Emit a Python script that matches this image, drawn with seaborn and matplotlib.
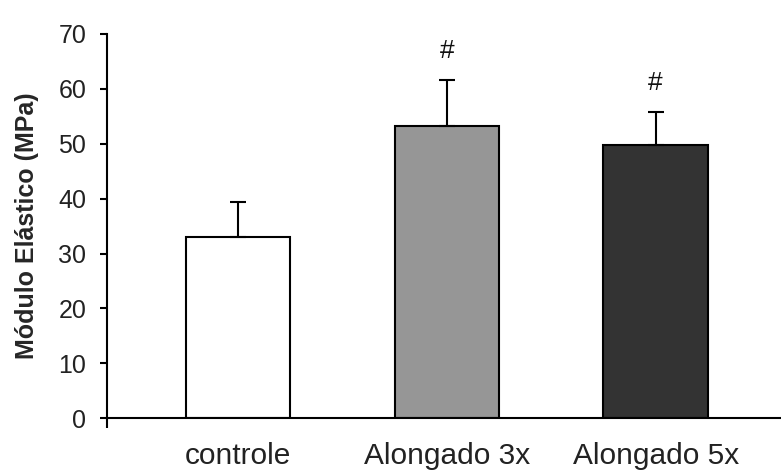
import numpy as np
import matplotlib
matplotlib.use('Agg')
import matplotlib.pyplot as plt
import seaborn as sns

# data
groups = ['controle', 'Alongado 3x', 'Alongado 5x']
means = [33.0, 53.3, 49.8]
sd_upper = [6.3, 8.3, 5.9]
signif = ['', '#', '#']
bar_colors = ['#ffffff', '#969696', '#333333']

sns.set_theme(style='white')
plt.rcParams['font.family'] = ['Liberation Sans', 'DejaVu Sans']

fig = plt.figure(figsize=(7.81, 4.72), dpi=100)
ax = fig.add_axes([0.137, 0.114, 0.863, 0.814])

sns.barplot(x=groups, y=means, hue=groups, palette=bar_colors, legend=False,
            width=0.5, edgecolor='black', linewidth=1.5, ax=ax)

# upper-only error bars
xpos = np.arange(len(groups))
ax.errorbar(xpos, means, yerr=[np.zeros(len(means)), sd_upper], fmt='none',
            ecolor='black', elinewidth=1.5, capsize=6, capthick=1.5, zorder=3)

# significance marks above the bars
for x, m, s, mark in zip(xpos, means, sd_upper, signif):
    if mark:
        ax.text(x, m + s + 3.2, mark, ha='center', va='bottom', fontsize=19, color='#111111')

ax.set_ylim(0, 70)
ax.set_xlim(-0.627, 2.6)
ax.set_yticks(range(0, 71, 10))
ax.set_ylabel('Módulo Elástico (MPa)', fontsize=18, fontweight='bold', labelpad=14)

for side in ['top', 'right']:
    ax.spines[side].set_visible(False)
for side in ['left', 'bottom']:
    ax.spines[side].set_color('black')
    ax.spines[side].set_linewidth(1.5)

ax.tick_params(axis='y', direction='out', length=5, width=1.5, color='black',
               labelsize=18, labelcolor='#222222', pad=10, left=True)
ax.tick_params(axis='x', length=0, labelsize=21.5, labelcolor='#222222', pad=17)
# small tick below the origin
ax.set_xticks([-0.627], minor=True)
ax.tick_params(axis='x', which='minor', direction='out', length=7, width=1.5, color='black', bottom=True)

fig.savefig('out.png', dpi=100)
